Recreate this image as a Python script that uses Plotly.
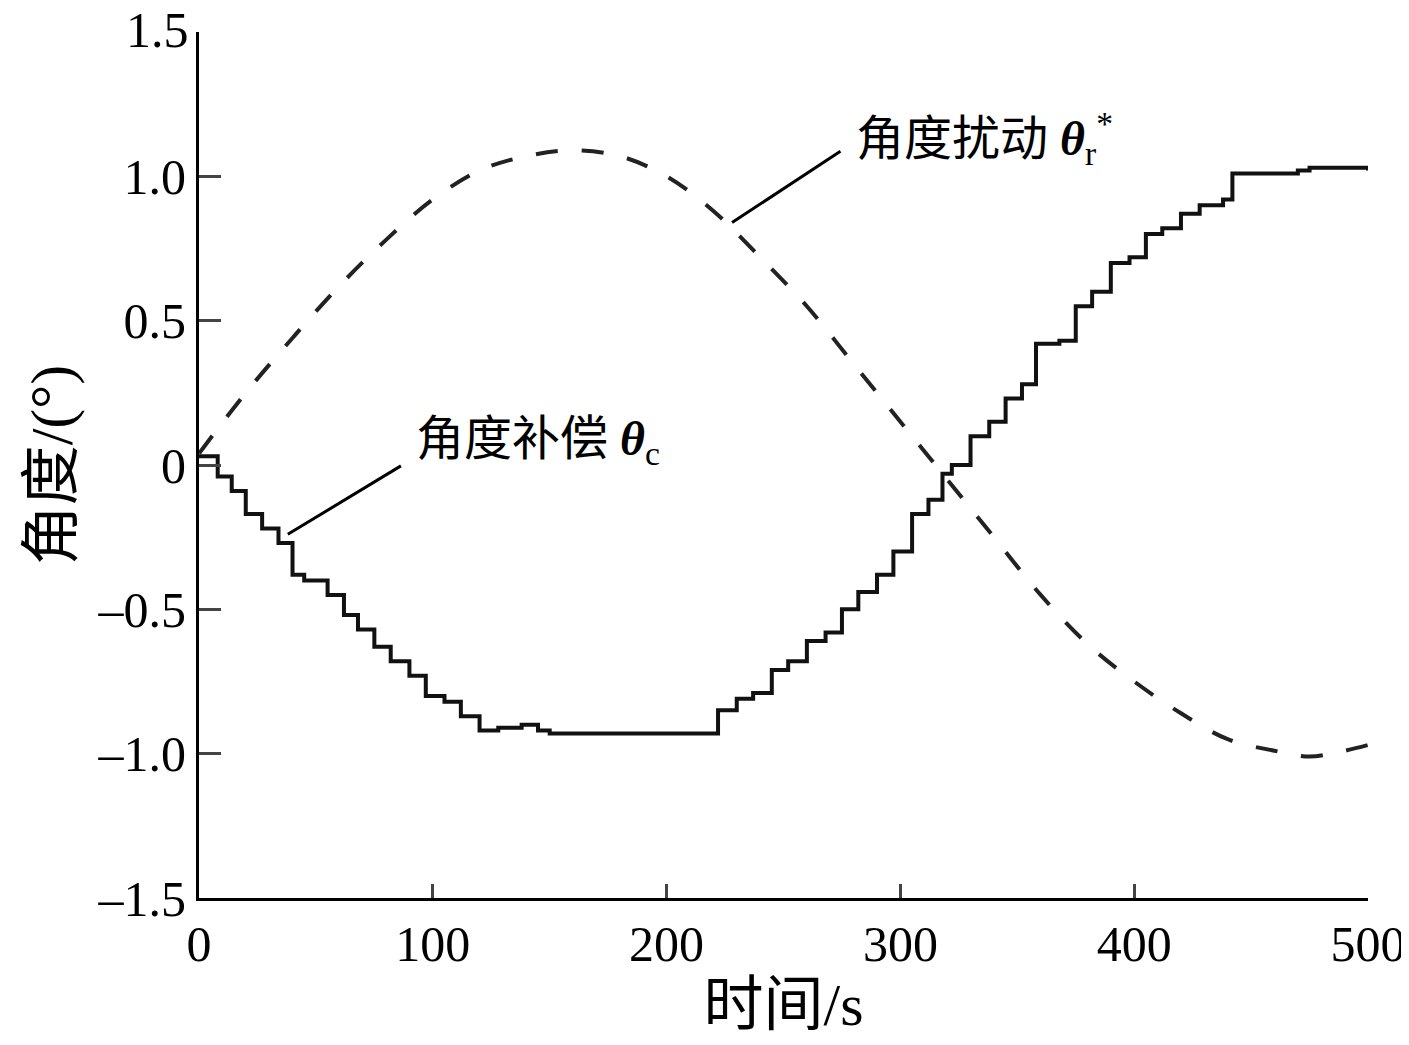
import plotly.graph_objects as go

# Angle disturbance (dashed, smooth)
dist_t = [0, 20, 40, 60, 80, 100, 120, 140, 160, 180, 200, 220, 240, 260, 280,
          300, 320, 340, 360, 380, 400, 420, 440, 460, 475, 490, 500]
dist_v = [0.04, 0.25, 0.44, 0.62, 0.78, 0.92, 1.02, 1.07, 1.09, 1.07, 1.0, 0.88, 0.72,
          0.55, 0.35, 0.15, -0.05, -0.25, -0.45, -0.62, -0.75, -0.86, -0.95, -0.99,
          -1.01, -0.99, -0.97]

# Angle compensation (solid, staircase)
comp_t = [0, 8, 14, 20, 27, 34, 40, 45, 55, 62, 68, 75, 82, 90, 97, 105, 112, 120,
          128, 138, 145, 150, 215, 222, 230, 237, 245, 252, 260, 268, 275, 282, 290,
          297, 305, 312, 318, 322, 330, 338, 345, 352, 358, 368, 375, 382, 390, 398,
          405, 412, 420, 428, 438, 442, 470, 475, 500]
comp_v = [0.03, -0.04, -0.09, -0.17, -0.22, -0.27, -0.38, -0.40, -0.45, -0.52, -0.57,
          -0.63, -0.68, -0.73, -0.80, -0.82, -0.87, -0.92, -0.91, -0.90, -0.92, -0.93,
          -0.93, -0.85, -0.81, -0.79, -0.71, -0.68, -0.61, -0.58, -0.50, -0.44, -0.38,
          -0.30, -0.17, -0.12, -0.03, 0.0, 0.10, 0.15, 0.23, 0.28, 0.42, 0.43, 0.55,
          0.60, 0.70, 0.72, 0.80, 0.82, 0.87, 0.90, 0.92, 1.01, 1.02, 1.03, 1.02]

y_ticks = [-1.5, -1.0, -0.5, 0, 0.5, 1.0, 1.5]
y_labels = ["–1.5", "–1.0", "–0.5", "0", "0.5", "1.0", ""]
x_ticks = [0, 100, 200, 300, 400, 500]

serif = "Liberation Serif, Noto Sans CJK SC"

fig = go.Figure()
fig.add_trace(go.Scatter(x=dist_t, y=dist_v, mode="lines", line_shape="spline",
                         line=dict(color="#222", width=4, dash="22px,24px")))
fig.add_trace(go.Scatter(x=comp_t, y=comp_v, mode="lines", line_shape="hv",
                         line=dict(color="#111", width=4)))

fig.add_annotation(x=228, y=0.84, ax=275, ay=1.09, axref="x", ayref="y",
                   showarrow=True, arrowhead=0, arrowwidth=3, arrowcolor="black",
                   text="")
fig.add_annotation(x=280, y=1.13, xanchor="left", showarrow=False,
                   text="角度扰动 <b><i>θ</i></b><sub>r</sub><sup>*</sup>",
                   font=dict(size=48, family=serif, color="black"))
fig.add_annotation(x=38, y=-0.24, ax=87, ay=-0.0, axref="x", ayref="y",
                   showarrow=True, arrowhead=0, arrowwidth=3, arrowcolor="black",
                   text="")
fig.add_annotation(x=92, y=0.08, xanchor="left", showarrow=False,
                   text="角度补偿 <b><i>θ</i></b><sub>c</sub>",
                   font=dict(size=48, family=serif, color="black"))
# top tick label drawn separately so it is not dropped at the edge
fig.add_annotation(x=0, xref="paper", y=1.5, yref="y", xanchor="right",
                   xshift=-8, yshift=2, showarrow=False, text="1.5",
                   font=dict(size=50, family=serif, color="black"))

fig.update_xaxes(range=[0, 500], tickvals=x_ticks, ticks="inside", ticklen=14,
                 tickwidth=3, showline=True, linewidth=3, linecolor="black",
                 showgrid=False, zeroline=False, title_text="时间/s",
                 title_standoff=4, automargin=False)
fig.update_yaxes(range=[-1.5, 1.5], tickvals=y_ticks, ticktext=y_labels,
                 ticks="inside", ticklen=22, tickwidth=3, showline=True,
                 linewidth=3, linecolor="black", showgrid=False, zeroline=False,
                 title_text="角度/(°)", title_standoff=6, automargin=False)

fig.update_layout(width=1409, height=1045, showlegend=False,
                  plot_bgcolor="white", paper_bgcolor="white",
                  margin=dict(l=191, r=49, t=24, b=155),
                  font=dict(family=serif, size=50, color="black"))

fig.write_html("out.html")
